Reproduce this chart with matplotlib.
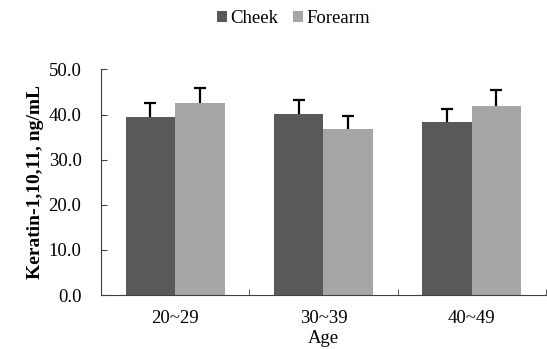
import matplotlib
matplotlib.use('Agg')
import matplotlib.pyplot as plt
import numpy as np

ages = ['20~29', '30~39', '40~49']
cheek = [39.4, 40.1, 38.4]
cheek_err = [3.1, 3.1, 2.8]
forearm = [42.6, 36.7, 41.9]
forearm_err = [3.4, 3.0, 3.5]

plt.rcParams['font.family'] = ['Liberation Serif', 'DejaVu Serif']

fig = plt.figure(figsize=(5.47, 3.49), dpi=100)
ax = fig.add_axes([0.1845, 0.1547, 0.8135, 0.6462])

x = np.arange(len(ages))
w = 1 / 3
groups = [(x - w / 2, cheek, cheek_err, '#595959', 'Cheek'),
          (x + w / 2, forearm, forearm_err, '#a6a6a6', 'Forearm')]
for xs, vals, errs, col, lab in groups:
    ax.bar(xs, vals, w, color=col, label=lab, zorder=2)
    tops = np.array(vals) + np.array(errs)
    # one-sided error bar: stem from bar top, cap only at the top
    ax.vlines(xs, vals, tops, color='black', linewidth=1.6, zorder=3)
    ax.plot(xs, tops, ls='none', marker='_', markersize=8, mew=1.6,
            color='black', zorder=3)

ax.set_xlim(-0.5, 2.5)
ax.set_ylim(0, 50)
ax.set_yticks(np.arange(0, 51, 10))
ax.set_yticklabels(['%.1f' % v for v in np.arange(0, 51, 10)], fontsize=13.5)
ax.set_xticks(x)
ax.set_xticklabels(ages, fontsize=13.5)
ax.tick_params(axis='x', length=0, pad=11)
ax.set_xticks([-0.5, 0.5, 1.5, 2.5], minor=True)
ax.tick_params(axis='x', which='minor', direction='in', length=4, color='#404040')
ax.tick_params(axis='y', direction='in', length=4, color='#404040', pad=14)

for s in ['top', 'right']:
    ax.spines[s].set_visible(False)
for s in ['left', 'bottom']:
    ax.spines[s].set_color('#404040')
    ax.spines[s].set_linewidth(0.8)

ax.set_xlabel('Age', fontsize=13.5, labelpad=2)
ax.set_ylabel('Keratin-1,10,11, ng/mL', fontsize=14, fontweight='bold', labelpad=3)

fig.legend(loc='upper center', bbox_to_anchor=(0.536, 1.02), ncol=2, frameon=False,
           prop={'family': 'Liberation Serif', 'size': 13.5},
           handlelength=0.55, handleheight=0.55, handletextpad=0.15,
           columnspacing=0.8)

fig.savefig('out.png', dpi=100)
